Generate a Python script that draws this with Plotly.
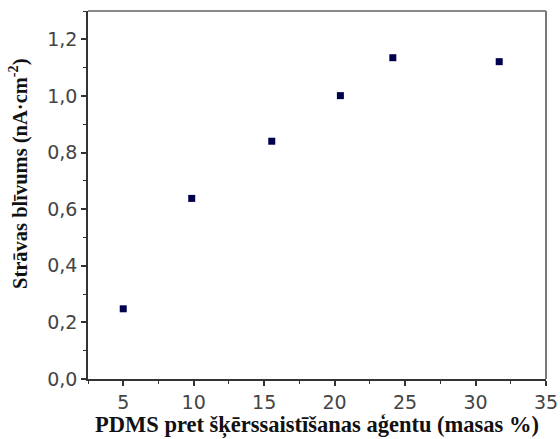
import plotly.graph_objects as go

pdms_pct = [5.0, 9.86, 15.54, 20.41, 24.13, 31.68]
current_density = [0.248, 0.638, 0.840, 1.001, 1.135, 1.121]

x_ticks = [5, 10, 15, 20, 25, 30, 35]
y_ticks = [0.0, 0.2, 0.4, 0.6, 0.8, 1.0, 1.2]

fig = go.Figure()
fig.add_trace(go.Scatter(
    x=pdms_pct, y=current_density, mode="markers",
    marker=dict(symbol="square", size=7, color="#00004f", line=dict(width=0)),
    showlegend=False,
))

tick_font = dict(family="DejaVu Sans", size=19, color="#444444")
x_title_font = dict(family="Liberation Serif", size=22.5, color="#111111")
y_title_font = dict(family="Liberation Serif", size=20.5, color="#111111")

fig.update_layout(
    width=560, height=439,
    margin=dict(l=88, r=14, t=11, b=60),
    paper_bgcolor="white", plot_bgcolor="white",
    separators=",.",
    xaxis=dict(
        range=[2.5, 35], tickvals=x_ticks, ticks="outside", ticklen=5, tickwidth=1.5,
        tickcolor="#333333", automargin=False,
        minor=dict(dtick=2.5, tick0=2.5, ticks="outside", ticklen=3, tickwidth=1.2, tickcolor="#333333"),
        showline=True, linecolor="#333333", linewidth=1.6, mirror=False,
        showgrid=False, zeroline=False, tickfont=tick_font,
        title=dict(text="<b>PDMS pret šķērssaistīšanas aģentu (masas %)</b>", font=x_title_font),
    ),
    yaxis=dict(
        range=[0, 1.3], tickvals=y_ticks, tickformat=".1f", ticks="outside", ticklen=5, tickwidth=1.5,
        tickcolor="#333333", automargin=False,
        minor=dict(dtick=0.1, tick0=0, ticks="outside", ticklen=3, tickwidth=1.2, tickcolor="#333333"),
        showline=True, linecolor="#333333", linewidth=1.6, mirror=False,
        showgrid=False, zeroline=False, tickfont=tick_font,
    ),
    annotations=[
        dict(text="<b>Strāvas blīvums (nA·cm<sup>-2</sup>)</b>", font=y_title_font,
             textangle=-90, xref="paper", yref="paper", x=0, y=0.557,
             xshift=-70, showarrow=False, xanchor="center", yanchor="middle"),
    ],
    shapes=[
        dict(type="line", xref="paper", yref="paper", x0=0, x1=1, y0=1, y1=1,
             line=dict(color="#888888", width=2)),
        dict(type="line", xref="paper", yref="paper", x0=1, x1=1, y0=0, y1=1,
             line=dict(color="#777777", width=2)),
    ],
)

fig.write_html("out.html")
